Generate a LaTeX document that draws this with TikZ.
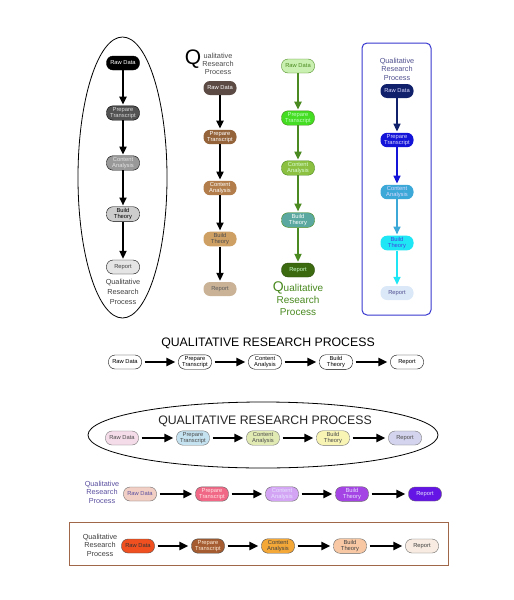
\documentclass[tikz,border=0pt]{standalone}
\usepackage{fontspec}
\setmainfont{Liberation Sans}
\usetikzlibrary{arrows.meta}

\definecolor{brownA}{HTML}{5C4A44}
\definecolor{brownB}{HTML}{94633A}
\definecolor{brownC}{HTML}{B27D4A}
\definecolor{brownD}{HTML}{CFA064}
\definecolor{brownE}{HTML}{C9B296}
\definecolor{leafA}{HTML}{C9F0B0}
\definecolor{leafB}{HTML}{44DD22}
\definecolor{leafC}{HTML}{8CC040}
\definecolor{leafD}{HTML}{5AA8A0}
\definecolor{leafE}{HTML}{3C6A10}
\definecolor{leafLine}{HTML}{4A8A20}
\definecolor{seaA}{HTML}{10206A}
\definecolor{seaB}{HTML}{1414D8}
\definecolor{seaC}{HTML}{3CA8D8}
\definecolor{seaD}{HTML}{1EE6F4}
\definecolor{seaE}{HTML}{DBE8F8}
\definecolor{seaFrame}{HTML}{3838D0}
\definecolor{seaText}{HTML}{505090}
\definecolor{paleA}{HTML}{F4DCE8}
\definecolor{paleB}{HTML}{C4E2F0}
\definecolor{paleC}{HTML}{E2EAB4}
\definecolor{paleD}{HTML}{F8F4B4}
\definecolor{paleE}{HTML}{D4D4EE}
\definecolor{plumA}{HTML}{F2CFC4}
\definecolor{plumB}{HTML}{F06886}
\definecolor{plumC}{HTML}{D4A4F4}
\definecolor{plumD}{HTML}{A444E4}
\definecolor{plumE}{HTML}{6414E4}
\definecolor{plumText}{HTML}{5A50A0}
\definecolor{fireA}{HTML}{F05020}
\definecolor{fireB}{HTML}{A45C30}
\definecolor{fireC}{HTML}{F4A838}
\definecolor{fireD}{HTML}{F8C8A4}
\definecolor{fireE}{HTML}{F8ECE2}
\definecolor{fireFrame}{HTML}{A06848}

\begin{document}
\begin{tikzpicture}[x=1pt,y=-1pt,
        stage/.style={draw,rounded corners=6.5pt,minimum width=33pt,minimum height=14pt,
                inner xsep=1pt,inner ysep=1.5pt,align=center,
                font=\fontsize{5.8}{6.2}\selectfont},
        flow/.style={line width=2pt,shorten >=1pt,-{Triangle[length=8pt,width=7pt]}},
        wide/.style={line width=2.4pt,shorten <=3pt,shorten >=3pt,
                -{Triangle[length=9pt,width=8pt]}},
        caption/.style={align=center,font=\fontsize{7.3}{8.6}\selectfont},
        heading/.style={font=\fontsize{12.3}{14}\selectfont}]

    \path[fill=white,use as bounding box] (0,0) rectangle (514,600);

    % grey column in an ellipse
    \draw[line width=0.8pt] (122.5,177.5) ellipse [x radius=44.5pt, y radius=140.5pt];
    \node[stage,fill=black,text=white] (raw1) at (123,63) {Raw Data};
    \node[stage,fill=black!68,text=white!85!black] (prep1) at (123,113) {Prepare\\Transcript};
    \node[stage,fill=black!40,text=white!90!black] (cont1) at (123,163) {Content\\Analysis};
    \node[stage,fill=black!20] (theo1) at (123,214) {Build\\Theory};
    \node[stage,fill=black!10,text=black!75] (rep1) at (123,267) {Report};
    \node[caption,text=black!75,font=\fontsize{7.3}{10}\selectfont] (cap1) at (123,292)
        {Qualitative\\Research\\Process};

    \path (raw1) edge[flow] (prep1);
    \path (prep1) edge[flow] (cont1);
    \path (cont1) edge[flow] (theo1);
    \path (theo1) edge[flow] (rep1);

    % brown column
    \node[font=\fontsize{21}{21}\selectfont] (q2) at (193,59) {Q};
    \node[caption,text=black!70,font=\fontsize{7.3}{8.3}\selectfont] (cap2) at (218,64)
        {ualitative\\Research\\Process};
    \node[stage,draw=none,fill=brownA,text=white] (raw2) at (220,88) {Raw Data};
    \node[stage,draw=none,fill=brownB,text=white] (prep2) at (220,137) {Prepare\\Transcript};
    \node[stage,draw=none,fill=brownC,text=white] (cont2) at (220,188) {Content\\Analysis};
    \node[stage,draw=none,fill=brownD,text=black!70] (theo2) at (220,239) {Build\\Theory};
    \node[stage,draw=none,fill=brownE,text=black!65] (rep2) at (220,289) {Report};

    \path (raw2) edge[flow] (prep2);
    \path (prep2) edge[flow] (cont2);
    \path (cont2) edge[flow] (theo2);
    \path (theo2) edge[flow] (rep2);

    % green column
    \node[stage,draw=leafLine,fill=leafA,text=leafLine] (raw3) at (298,66) {Raw Data};
    \node[stage,draw=leafLine,fill=leafB,text=green!25!white] (prep3) at (298,118) {Prepare\\Transcript};
    \node[stage,draw=leafLine,fill=leafC,text=green!15!white] (cont3) at (298,168) {Content\\Analysis};
    \node[stage,draw=leafLine,fill=leafD,text=white] (theo3) at (298,220) {Build\\Theory};
    \node[stage,draw=leafE!70!black,fill=leafE,text=green!20!white] (rep3) at (298,270) {Report};
    \node[caption,text=leafLine,font=\fontsize{10}{12}\selectfont] (cap3) at (298,299)
        {{\fontsize{14}{12}\selectfont Q}ualitative\\Research\\Process};

    \path (raw3) edge[flow,leafLine,line width=2.4pt] (prep3);
    \path (prep3) edge[flow,leafLine,line width=2.4pt] (cont3);
    \path (cont3) edge[flow,leafLine,line width=2.4pt] (theo3);
    \path (theo3) edge[flow,leafLine,line width=2.4pt] (rep3);

    % blue column in a frame
    \draw[seaFrame,line width=1pt,rounded corners=5pt] (362,43) rectangle (431,315);
    \node[caption,text=seaText] (cap4) at (397,69) {Qualitative\\Research\\Process};
    \node[stage,draw=none,fill=seaA,text=white!85!blue] (raw4) at (397,91) {Raw Data};
    \node[stage,draw=none,fill=seaB,text=white!85!blue] (prep4) at (397,140) {Prepare\\Transcript};
    \node[stage,draw=none,fill=seaC,text=white!85!blue] (cont4) at (397,192) {Content\\Analysis};
    \node[stage,draw=none,fill=seaD,text=seaB!80] (theo4) at (397,243) {Build\\Theory};
    \node[stage,draw=none,fill=seaE,text=seaText] (rep4) at (397,293) {Report};

    \path (raw4) edge[flow,seaA,line width=1.6pt] (prep4);
    \path (prep4) edge[flow,seaB,line width=1.6pt] (cont4);
    \path (cont4) edge[flow,seaC,line width=1.6pt] (theo4);
    \path (theo4) edge[flow,seaD,line width=1.6pt] (rep4);

    % plain row
    \node[heading] (head5) at (268,343) {QUALITATIVE RESEARCH PROCESS};
    \node[stage,fill=white] (raw5) at (125,362) {Raw Data};
    \node[stage,fill=white] (prep5) at (195,362) {Prepare\\Transcript};
    \node[stage,fill=white] (cont5) at (265,362) {Content\\Analysis};
    \node[stage,fill=white] (theo5) at (336,362) {Build\\Theory};
    \node[stage,fill=white] (rep5) at (407,362) {Report};

    \path (raw5) edge[wide] (prep5);
    \path (prep5) edge[wide] (cont5);
    \path (cont5) edge[wide] (theo5);
    \path (theo5) edge[wide] (rep5);

    % pastel row in an ellipse
    \draw[line width=0.8pt] (263,435) ellipse [x radius=175pt, y radius=33pt];
    \node[heading,text=black!85] (head6) at (265,421) {QUALITATIVE RESEARCH PROCESS};
    \node[stage,draw=black!55,fill=paleA,text=black!70] (raw6) at (122,438) {Raw Data};
    \node[stage,draw=black!55,fill=paleB,text=black!70] (prep6) at (193,438) {Prepare\\Transcript};
    \node[stage,draw=black!55,fill=paleC,text=black!70] (cont6) at (263,438) {Content\\Analysis};
    \node[stage,draw=black!55,fill=paleD,text=black!70] (theo6) at (333,438) {Build\\Theory};
    \node[stage,draw=black!55,fill=paleE,text=black!70] (rep6) at (405,438) {Report};

    \path (raw6) edge[wide] (prep6);
    \path (prep6) edge[wide] (cont6);
    \path (cont6) edge[wide] (theo6);
    \path (theo6) edge[wide] (rep6);

    % purple row
    \node[caption,text=plumText] (cap7) at (102,492) {Qualitative\\Research\\Process};
    \node[stage,draw=black!60,fill=plumA,text=plumText] (raw7) at (140,494) {Raw Data};
    \node[stage,draw=black!60,fill=plumB,text=white!90!red] (prep7) at (212,494) {Prepare\\Transcript};
    \node[stage,draw=black!60,fill=plumC,text=white!90!blue] (cont7) at (282,494) {Content\\Analysis};
    \node[stage,draw=black!60,fill=plumD,text=white!90!blue] (theo7) at (352,494) {Build\\Theory};
    \node[stage,draw=black!60,fill=plumE,text=white!90!blue] (rep7) at (425,494) {Report};

    \path (raw7) edge[wide] (prep7);
    \path (prep7) edge[wide] (cont7);
    \path (cont7) edge[wide] (theo7);
    \path (theo7) edge[wide] (rep7);

    % orange row in a frame
    \draw[fireFrame,line width=1pt] (69,522) rectangle (448,565);
    \node[caption,text=black!75] (cap8) at (100,545) {Qualitative\\Research\\Process};
    \node[stage,draw=black!70,fill=fireA,text=black!80] (raw8) at (138,546) {Raw Data};
    \node[stage,draw=black!70,fill=fireB,text=white!85!orange] (prep8) at (208,546) {Prepare\\Transcript};
    \node[stage,draw=black!70,fill=fireC,text=black!75] (cont8) at (278,546) {Content\\Analysis};
    \node[stage,draw=black!60,fill=fireD,text=black!75] (theo8) at (350,546) {Build\\Theory};
    \node[stage,draw=black!60,fill=fireE,text=black!75] (rep8) at (422,546) {Report};

    \path (raw8) edge[wide] (prep8);
    \path (prep8) edge[wide] (cont8);
    \path (cont8) edge[wide] (theo8);
    \path (theo8) edge[wide] (rep8);
\end{tikzpicture}
\end{document}
